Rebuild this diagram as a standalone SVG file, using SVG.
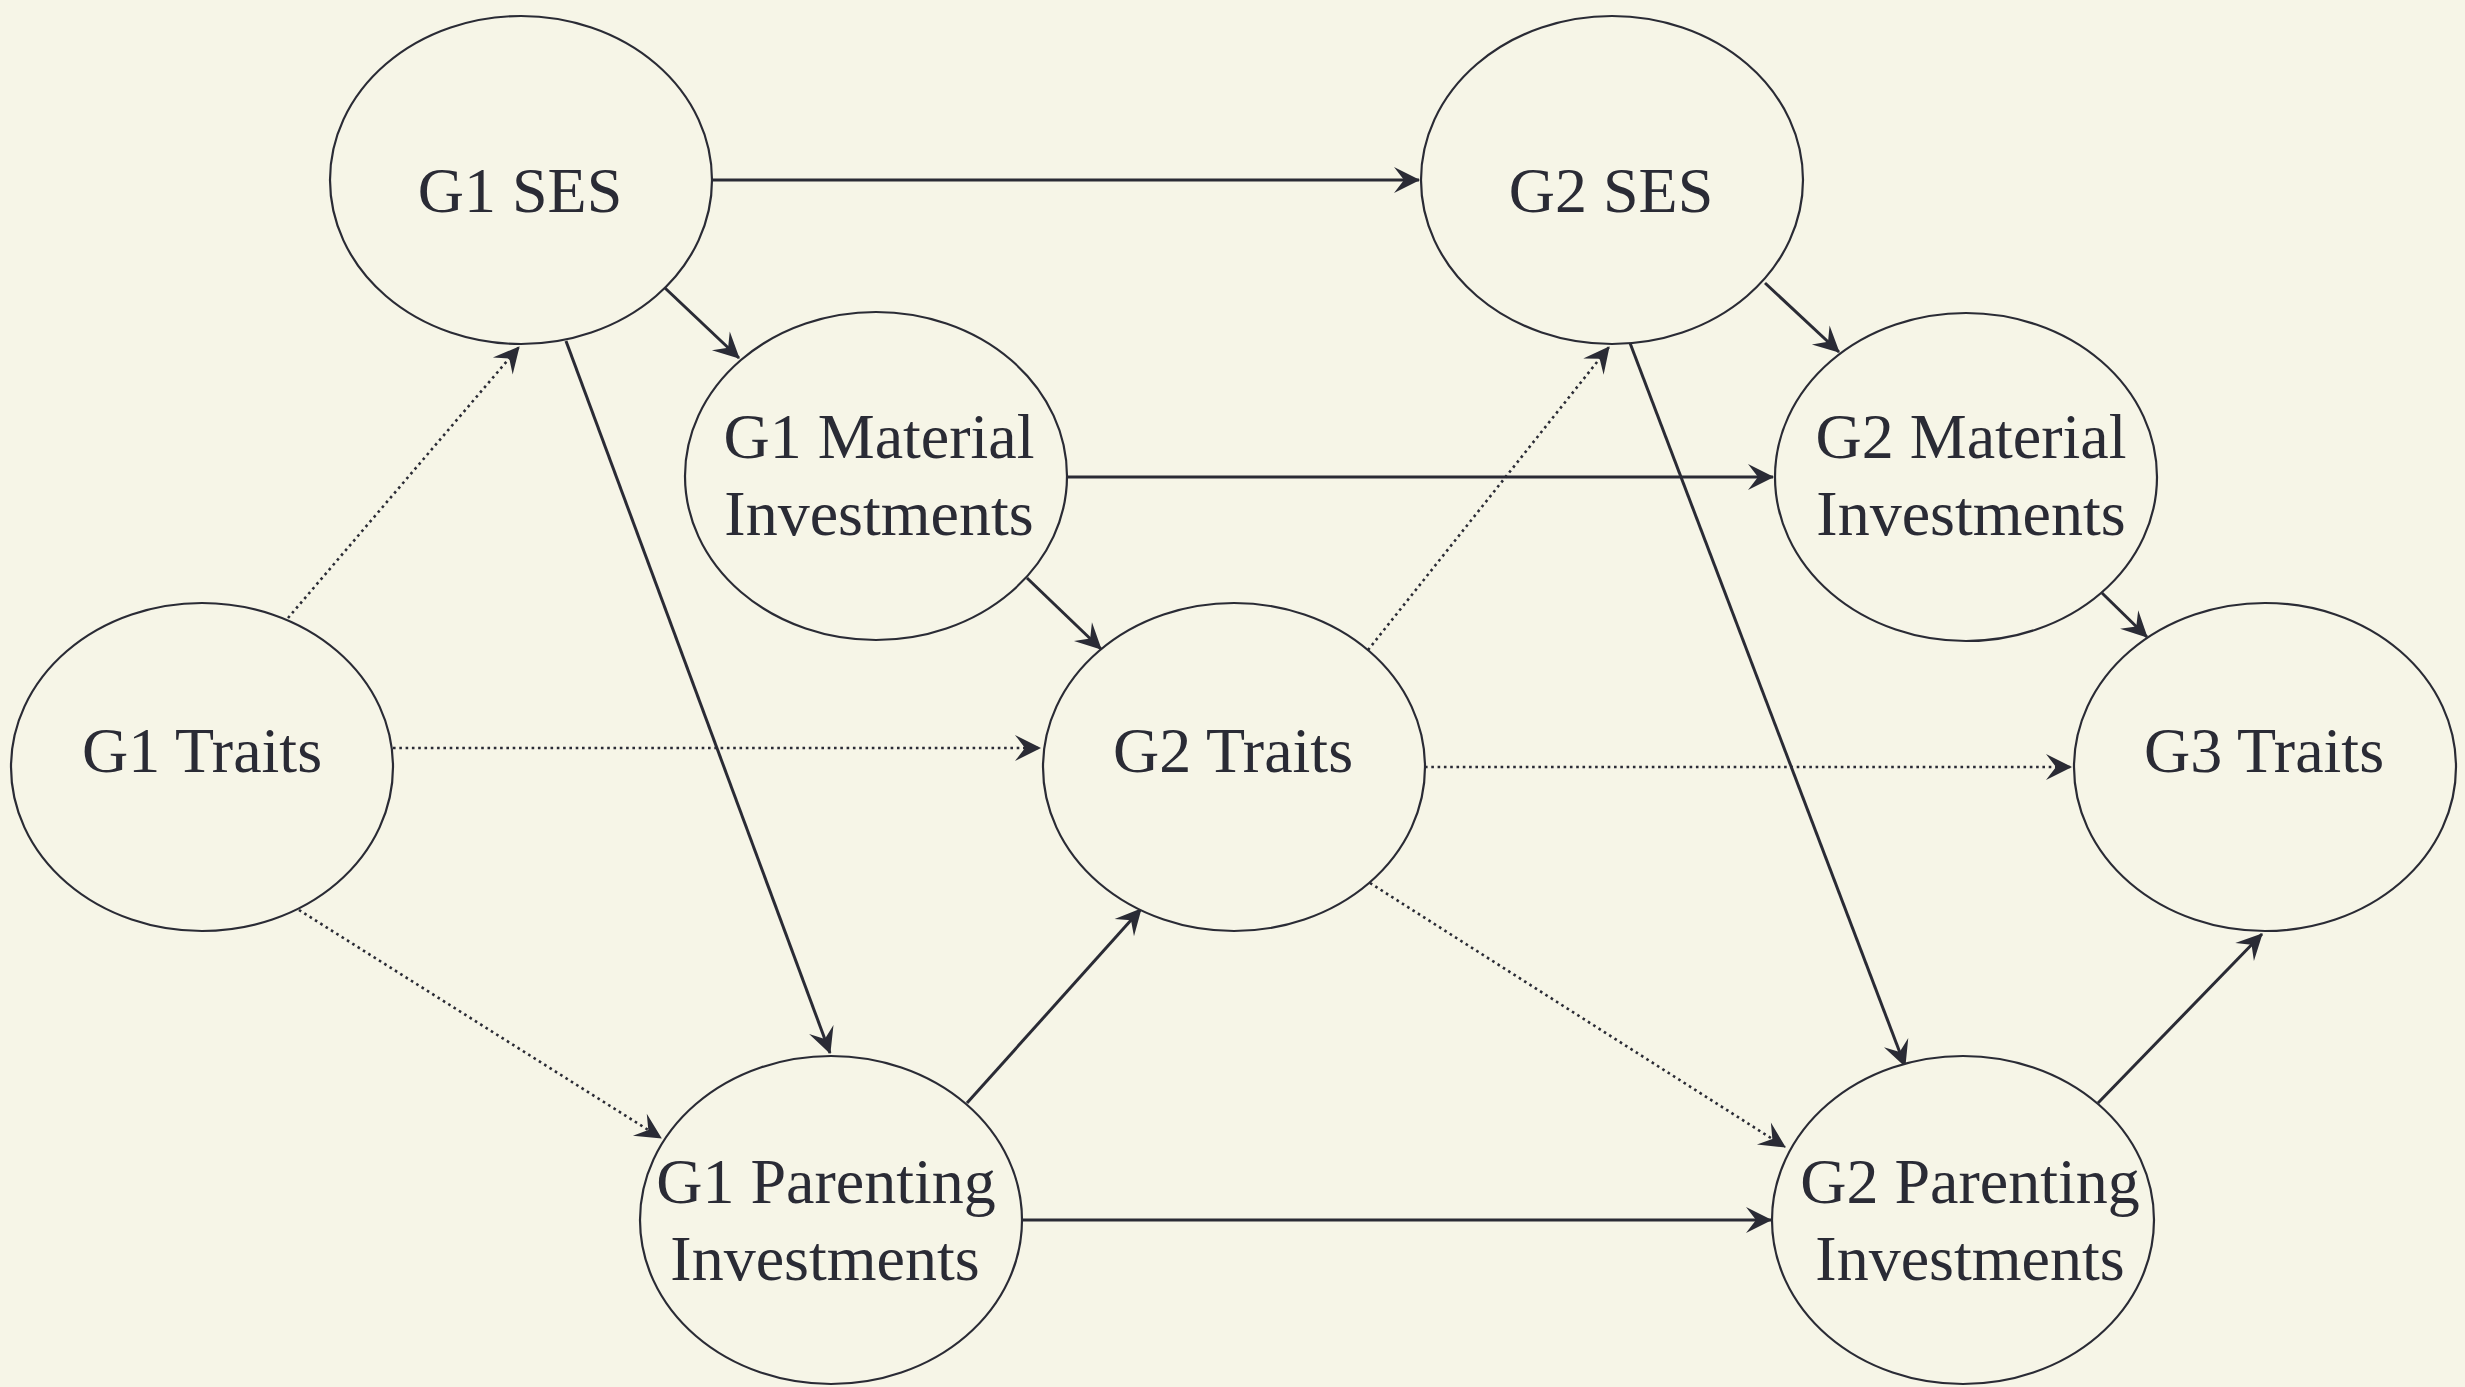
<svg xmlns="http://www.w3.org/2000/svg" width="2465" height="1387" viewBox="0 0 2465 1387">
<style>
.node ellipse{fill:#f6f5e7;stroke:#2a2b35;stroke-width:2.2}
.node text{font-family:"Liberation Serif","Times New Roman",serif;font-size:64px;fill:#2a2b35;text-anchor:middle}
.solid{stroke:#2a2b35;stroke-width:3;fill:none;marker-end:url(#arr)}
.dot{stroke:#2a2b35;stroke-width:2.6;fill:none;stroke-dasharray:2.6 3.7;marker-end:url(#arr)}
</style>
<defs>
<marker id="arr" markerUnits="userSpaceOnUse" viewBox="-27 -15 30 30" markerWidth="30" markerHeight="30" refX="0" refY="0" orient="auto">
<path d="M1,0 L-25,-13 L-15,0 L-25,13 Z" fill="#2a2b35"/>
</marker>
</defs>
<rect width="2465" height="1387" fill="#f6f5e7"/>
<g id="connectors">
<line class="solid" x1="712" y1="180" x2="1419" y2="180"/>
<line class="solid" x1="665" y1="288" x2="739" y2="358"/>
<line class="solid" x1="566" y1="341" x2="830" y2="1053"/>
<line class="dot" x1="288" y1="618" x2="519" y2="347"/>
<line class="dot" x1="393" y1="748" x2="1040" y2="748"/>
<line class="dot" x1="299" y1="910" x2="661" y2="1138"/>
<line class="solid" x1="1067" y1="477" x2="1773" y2="477"/>
<line class="solid" x1="1027" y1="578" x2="1101" y2="649"/>
<line class="solid" x1="967" y1="1103" x2="1141" y2="909"/>
<line class="solid" x1="1023" y1="1220" x2="1771" y2="1220"/>
<line class="dot" x1="1368" y1="650" x2="1609" y2="347"/>
<line class="dot" x1="1425" y1="767" x2="2071" y2="767"/>
<line class="dot" x1="1370" y1="883" x2="1785" y2="1147"/>
<line class="solid" x1="1765" y1="283" x2="1839" y2="352"/>
<line class="solid" x1="1630" y1="343" x2="1905" y2="1066"/>
<line class="solid" x1="2102" y1="593" x2="2147" y2="637"/>
<line class="solid" x1="2098" y1="1103" x2="2262" y2="934"/>
</g>
<g id="g1ses" class="node"><ellipse cx="521" cy="180" rx="191" ry="164"/><text x="520" y="212">G1 SES</text></g>
<g id="g2ses" class="node"><ellipse cx="1612" cy="180" rx="191" ry="164"/><text x="1611" y="212">G2 SES</text></g>
<g id="g1mat" class="node"><ellipse cx="876" cy="476" rx="191" ry="164"/><text x="879" y="458">G1 Material</text><text x="879" y="535">Investments</text></g>
<g id="g2mat" class="node"><ellipse cx="1966" cy="477" rx="191" ry="164"/><text x="1971" y="458">G2 Material</text><text x="1971" y="535">Investments</text></g>
<g id="g1traits" class="node"><ellipse cx="202" cy="767" rx="191" ry="164"/><text x="202" y="772">G1 Traits</text></g>
<g id="g2traits" class="node"><ellipse cx="1234" cy="767" rx="191" ry="164"/><text x="1233" y="772">G2 Traits</text></g>
<g id="g3traits" class="node"><ellipse cx="2265" cy="767" rx="191" ry="164"/><text x="2264" y="772">G3 Traits</text></g>
<g id="g1par" class="node"><ellipse cx="831" cy="1220" rx="191" ry="164"/><text x="826" y="1203">G1 Parenting</text><text x="825" y="1280">Investments</text></g>
<g id="g2par" class="node"><ellipse cx="1963" cy="1220" rx="191" ry="164"/><text x="1970" y="1203">G2 Parenting</text><text x="1970" y="1280">Investments</text></g>
</svg>
